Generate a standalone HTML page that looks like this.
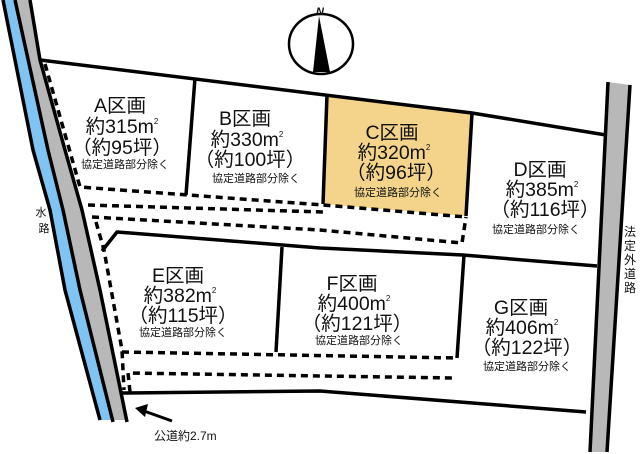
<!DOCTYPE html>
<html><head><meta charset="utf-8"><style>
html,body{margin:0;padding:0;background:#fff;}
svg{display:block;}
text{font-family:"Liberation Sans","Noto Sans CJK JP",sans-serif;fill:#111;}
.b{font-size:19.5px;}
.s{font-size:11px;}
</style></head><body>
<svg width="640" height="454" viewBox="0 0 640 454" xmlns="http://www.w3.org/2000/svg">
<!-- waterway -->
<polygon points="3,0 15,0 48,150 63,210 80,290 113,420 100,420 65,290 50,210 33,150" fill="#80c4f4"/>
<polygon points="15,0 30,0 40,60 65,150 82,210 100,290 127,420 113,420 80,290 63,210 48,150" fill="#b8b8b8"/>
<g fill="none" stroke="#000" stroke-width="3.5" stroke-linejoin="round">
<polyline points="3,0 33,150 50,210 65,290 100,420"/>
<polyline points="15,0 48,150 63,210 80,290 113,422"/>
<polyline points="30,0 40,60 65,150 82,210 100,290 127,422"/>
</g>
<!-- right road -->
<polygon points="608,82 630,85 607,452 590,452" fill="#b8b8b8"/>
<g stroke="#000" stroke-width="3.5"><line x1="608" y1="82" x2="590" y2="452"/><line x1="630" y1="85" x2="607" y2="452"/></g>
<!-- C lot -->
<polygon points="327,95 472,113 466,216 323,204" fill="#f3d48a"/>
<!-- solid lines -->
<g fill="none" stroke="#000" stroke-width="3.5" stroke-linejoin="round">
<polyline points="40,60 472,113 606,135"/>
<line x1="195" y1="78" x2="186" y2="195"/>
<line x1="327" y1="95" x2="323" y2="204"/>
<line x1="472" y1="113" x2="466" y2="216"/>
<polyline points="102,251 117,232 320,248 463,255 597,266"/>
<line x1="282" y1="247" x2="276" y2="352"/>
<line x1="464" y1="255" x2="457" y2="358"/>
<polyline points="122,393 320,391 586,412"/>
</g>
<!-- dashed lines -->
<g fill="none" stroke="#000" stroke-width="3.5" stroke-dasharray="7,5">
<polyline points="45,64 80,187 323,205 466,217"/>
<line x1="88" y1="205" x2="323" y2="212"/>
<polyline points="92,217 320,230 462,243 466,217"/>
<polyline points="96,222 104,250 122,350 124,390"/>
<line x1="122" y1="352" x2="457" y2="358"/>
<polyline points="130,392 128,373 454,378"/>
</g>
<!-- compass -->
<ellipse cx="321" cy="44" rx="32" ry="30" fill="none" stroke="#000" stroke-width="2.5"/>
<polygon points="319,16 330,72 313,72" fill="#000"/>
<text x="316" y="15" font-size="11" font-style="italic" font-weight="bold">N</text>
<!-- labels -->
<g text-anchor="middle">
<text class="b" x="120" y="112">A区画</text>
<text class="b" x="122" y="133">約315m<tspan font-size="8" dy="-9">2</tspan></text>
<text class="b" x="122" y="154">（約95坪）</text>
<text class="s" x="125" y="168">協定道路部分除く</text>

<text class="b" x="245" y="125">B区画</text>
<text class="b" x="247" y="146">約330m<tspan font-size="8" dy="-9">2</tspan></text>
<text class="b" x="250" y="166">（約100坪）</text>
<text class="s" x="256" y="182">協定道路部分除く</text>

<text class="b" x="392" y="139">C区画</text>
<text class="b" x="394" y="159">約320m<tspan font-size="8" dy="-9">2</tspan></text>
<text class="b" x="396" y="179">（約96坪）</text>
<text class="s" x="398" y="196">協定道路部分除く</text>

<text class="b" x="540" y="176">D区画</text>
<text class="b" x="542" y="196">約385m<tspan font-size="8" dy="-9">2</tspan></text>
<text class="b" x="545" y="216">（約116坪）</text>
<text class="s" x="536" y="233">協定道路部分除く</text>

<text class="b" x="178" y="282">E区画</text>
<text class="b" x="180" y="302">約382m<tspan font-size="8" dy="-9">2</tspan></text>
<text class="b" x="183" y="322">（約115坪）</text>
<text class="s" x="183" y="336">協定道路部分除く</text>

<text class="b" x="352" y="290">F区画</text>
<text class="b" x="354" y="310">約400m<tspan font-size="8" dy="-9">2</tspan></text>
<text class="b" x="357" y="330">（約121坪）</text>
<text class="s" x="359" y="344">協定道路部分除く</text>

<text class="b" x="521" y="314">G区画</text>
<text class="b" x="522" y="334">約406m<tspan font-size="8" dy="-9">2</tspan></text>
<text class="b" x="527" y="354">（約122坪）</text>
<text class="s" x="527" y="370">協定道路部分除く</text>

<text class="s" x="41" y="216">水</text>
<text class="s" x="44" y="232">路</text>
<text font-size="12" x="630" y="236">法</text>
<text font-size="12" x="630" y="250">定</text>
<text font-size="12" x="630" y="264">外</text>
<text font-size="12" x="630" y="278">道</text>
<text font-size="12" x="630" y="292">路</text>
</g>
<!-- arrow -->
<line x1="172" y1="421" x2="144" y2="411" stroke="#000" stroke-width="3"/>
<polygon points="135,408 148,404 145,417" fill="#000"/>
<text x="154" y="440" font-size="12">公道約2.7m</text>
</svg>
</body></html>
